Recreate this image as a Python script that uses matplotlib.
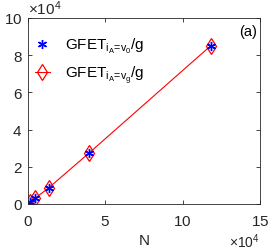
import numpy as np
import matplotlib
matplotlib.use('Agg')
import matplotlib.pyplot as plt
from matplotlib.ticker import ScalarFormatter

plt.rcParams['font.family'] = 'Liberation Sans'
plt.rcParams['mathtext.fontset'] = 'custom'
plt.rcParams['mathtext.rm'] = 'Liberation Sans'
plt.rcParams['mathtext.it'] = 'Liberation Sans'

# data
N = [1300, 4500, 13400, 39200, 118300]
gfet_v0 = [900, 3000, 8700, 27200, 85200]
gfet_vg = [900, 3000, 8700, 27200, 85200]

fig = plt.figure(figsize=(2.77, 2.51), dpi=100)
ax = fig.add_axes([28 / 277, 46 / 251, 232 / 277, 186 / 251])

ax.plot(N, gfet_vg, color='red', lw=0.8, marker='d', ms=8, mfc='none', mec='red', mew=0.9,
        label=r'GFET$_{i_A\!=\!v_g}$/g')
ax.plot(N, gfet_v0, ls='none', color='blue', marker=(6, 2, 0), ms=6.5, mew=1.0,
        label=r'GFET$_{i_A\!=\!v_0}$/g')

ax.set_xlim(0, 150000)
ax.set_ylim(0, 100000)
ax.set_xticks([0, 50000, 100000, 150000])
ax.set_yticks(np.arange(0, 100001, 20000))

for axis in (ax.xaxis, ax.yaxis):
    fmt = ScalarFormatter(useMathText=True)
    fmt.set_powerlimits((4, 4))
    axis.set_major_formatter(fmt)

ax.tick_params(direction='in', length=3, width=0.6, labelsize=11, colors='#262626',
               top=True, right=True)
ax.tick_params(axis='x', pad=7)
ax.tick_params(axis='y', pad=4)
ax.xaxis.get_offset_text().set_fontsize(10)
ax.yaxis.get_offset_text().set_fontsize(11)
for s in ax.spines.values():
    s.set_linewidth(0.6)
    s.set_color('#262626')

ax.set_xlabel('N', fontsize=11, color='#262626', labelpad=4)
ax.text(0.985, 0.97, '(a)', transform=ax.transAxes, ha='right', va='top', fontsize=10.5)

h, l = ax.get_legend_handles_labels()
ax.legend([h[1], h[0]], [l[1], l[0]], loc='upper left', frameon=False, fontsize=11,
          handlelength=1.0, handletextpad=1.0, labelspacing=0.55,
          bbox_to_anchor=(-0.03, 0.975))

fig.savefig('out.png', dpi=100)
